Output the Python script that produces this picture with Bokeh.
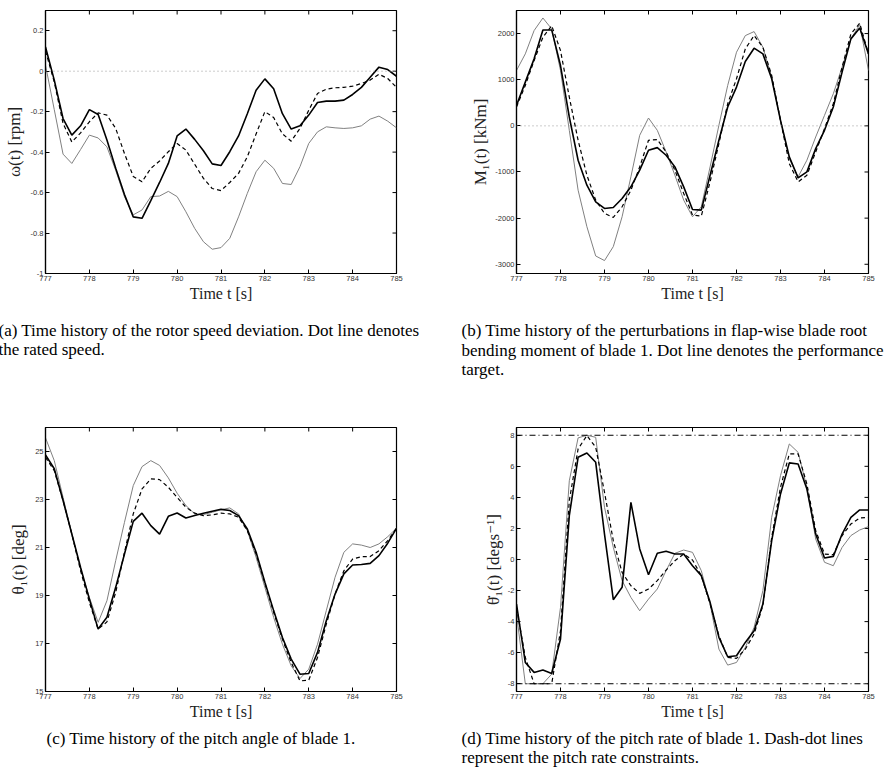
import math
from bokeh.plotting import figure
from bokeh.layouts import column, row
from bokeh.models import Range1d, FixedTicker, Span, Title
from bokeh.embed import file_html
from bokeh.resources import INLINE

# ---------------- data ----------------
t = [777.0, 777.2, 777.4, 777.6, 777.8, 778.0, 778.2, 778.4, 778.6, 778.8,
     779.0, 779.2, 779.4, 779.6, 779.8, 780.0, 780.2, 780.4, 780.6, 780.8,
     781.0, 781.2, 781.4, 781.6, 781.8, 782.0, 782.2, 782.4, 782.6, 782.8,
     783.0, 783.2, 783.4, 783.6, 783.8, 784.0, 784.2, 784.4, 784.6, 784.8,
     785.0]

# (a) rotor speed deviation [rpm]
omega_solid = [0.12, -0.044, -0.234, -0.316, -0.27, -0.19, -0.214, -0.34, -0.48, -0.61,
               -0.72, -0.727, -0.64, -0.55, -0.456, -0.32, -0.286, -0.337, -0.393, -0.458,
               -0.466, -0.398, -0.32, -0.21, -0.094, -0.038, -0.087, -0.21, -0.286, -0.27,
               -0.217, -0.155, -0.148, -0.148, -0.143, -0.115, -0.08, -0.03, 0.02, 0.008,
               -0.025]
omega_dashed = [0.10, -0.053, -0.258, -0.35, -0.305, -0.25, -0.206, -0.217, -0.283, -0.407,
                -0.52, -0.547, -0.48, -0.444, -0.398, -0.357, -0.39, -0.46, -0.53, -0.58,
                -0.59, -0.55, -0.505, -0.423, -0.31, -0.2, -0.229, -0.31, -0.346, -0.283,
                -0.193, -0.11, -0.089, -0.082, -0.08, -0.074, -0.061, -0.044, -0.015, -0.036,
                -0.08]
omega_gray = [0.03, -0.19, -0.41, -0.456, -0.387, -0.316, -0.33, -0.374, -0.49, -0.62,
              -0.71, -0.686, -0.62, -0.617, -0.594, -0.62, -0.695, -0.777, -0.843, -0.88,
              -0.872, -0.826, -0.72, -0.604, -0.497, -0.44, -0.48, -0.555, -0.56, -0.472,
              -0.357, -0.3, -0.275, -0.28, -0.283, -0.28, -0.27, -0.237, -0.222, -0.247,
              -0.28]

# (b) flap-wise blade root bending moment [kNm]
m1_solid = [444, 948, 1452, 2079, 2079, 1307, 192, -745, -1286, -1646,
            -1790, -1770, -1575, -1322, -961, -529, -472, -637, -889, -1322,
            -1812, -1826, -1070, -313, 408, 840, 1395, 1683, 1560, 1020,
            120, -673, -1127, -997, -493, -97, 408, 1164, 1885, 2122,
            1560]
m1_dashed = [408, 876, 1416, 1920, 2172, 1632, 624, -313, -1070, -1610,
             -1898, -1984, -1754, -1394, -889, -313, -298, -565, -961, -1466,
             -1934, -1956, -1214, -385, 480, 1020, 1668, 1956, 1704, 1092,
             120, -817, -1214, -1070, -565, -60, 480, 1272, 1992, 2223,
             1560]
m1_gray = [1200, 1560, 2065, 2338, 2100, 1200, -97, -1394, -2186, -2820,
           -2920, -2617, -1970, -1105, -205, 170, -97, -565, -1070, -1610,
           -1970, -1754, -889, 12, 876, 1596, 1956, 2043, 1704, 1056,
           120, -709, -1105, -745, -241, 228, 696, 1272, 1885, 2194,
           1200]

# (c) pitch angle of blade 1 [deg]
theta_solid = [24.86, 24.28, 22.96, 21.56, 20.17, 18.85, 17.6, 18.09, 19.34, 20.73,
               22.09, 22.43, 21.91, 21.56, 22.30, 22.44, 22.23, 22.33, 22.43, 22.51,
               22.59, 22.54, 22.33, 21.77, 20.80, 19.55, 18.37, 17.25, 16.35, 15.72,
               15.75, 16.63, 17.95, 19.06, 19.9, 20.27, 20.29, 20.34, 20.66, 21.18,
               21.8]
theta_dashed = [24.76, 24.2, 22.96, 21.56, 20.03, 18.71, 17.6, 17.9, 19.13, 20.8,
                22.4, 23.44, 23.86, 23.83, 23.51, 23.09, 22.68, 22.43, 22.33, 22.36,
                22.43, 22.4, 22.26, 21.70, 20.73, 19.51, 18.30, 17.18, 16.21, 15.44,
                15.47, 16.42, 17.81, 19.06, 20.03, 20.52, 20.62, 20.62, 20.87, 21.29,
                21.8]
theta_gray = [25.57, 24.62, 23.09, 21.56, 20.1, 18.92, 17.88, 18.78, 20.45, 22.05,
              23.58, 24.37, 24.62, 24.42, 23.90, 23.26, 22.75, 22.4, 22.37, 22.47,
              22.57, 22.65, 22.4, 21.7, 20.59, 19.34, 18.09, 16.97, 16.07, 15.54,
              15.93, 16.97, 18.37, 19.76, 20.80, 21.15, 21.1, 21.0, 21.15, 21.45,
              21.8]

# (d) pitch rate of blade 1 [deg/s]
rate_solid = [-2.87, -6.63, -7.27, -7.12, -7.34, -5.12, 2.82, 6.58, 6.86, 6.26,
              1.64, -2.59, -1.79, 3.68, 0.68, -0.98, 0.40, 0.53, 0.35, 0.35,
              -0.40, -1.04, -2.76, -5.01, -6.26, -6.20, -5.34, -4.59, -2.87, 1.21,
              4.22, 6.22, 6.15, 4.54, 1.64, 0.10, 0.2, 1.64, 2.72, 3.19,
              3.19]
rate_dashed = [-3.09, -6.3, -8.0, -8.0, -8.0, -4.59, 3.79, 7.12, 7.98, 7.23,
               4.33, 1.21, -0.83, -1.69, -2.18, -1.90, -1.36, -0.68, -0.08, 0.35,
               -0.03, -1.04, -2.87, -4.91, -6.30, -6.37, -5.77, -4.80, -2.97, 1.43,
               4.65, 6.80, 6.80, 4.86, 1.86, 0.35, 0.31, 1.54, 2.29, 2.67,
               2.72]
rate_gray = [-3.51, -8.0, -8.0, -8.0, -7.38, -3.08, 5.07, 7.83, 8.0, 7.87,
             3.36, 0.78, -1.36, -2.44, -3.30, -2.55, -1.90, -0.72, 0.40, 0.61,
             0.46, -0.72, -2.87, -5.77, -6.80, -6.63, -5.66, -4.37, -2.0, 2.72,
             5.40, 7.44, 6.90, 4.65, 1.32, -0.18, -0.40, 0.78, 1.54, 1.90,
             2.12]
rate_limit = [8, -8]

# ticks
x_ticks = [777, 778, 779, 780, 781, 782, 783, 784, 785]
x_tick_labels = ["777", "778", "779", "780", "781", "782", "783", "784", "785"]
ya_ticks = [-1, -0.8, -0.6, -0.4, -0.2, 0, 0.2]
ya_labels = ["-1", "-0.8", "-0.6", "-0.4", "-0.2", "0", "0.2"]
yb_ticks = [-3000, -2000, -1000, 0, 1000, 2000]
yb_labels = ["-3000", "-2000", "-1000", "0", "1000", "2000"]
yc_ticks = [15, 17, 19, 21, 23, 25]
yc_labels = ["15", "17", "19", "21", "23", "25"]
yd_ticks = [-8, -6, -4, -2, 0, 2, 4, 6, 8]
yd_labels = ["-8", "-6", "-4", "-2", "0", "2", "4", "6", "8"]

captions = {
    "a": ["(a)  Time history of the rotor speed deviation. Dot line denotes",
          "the rated speed."],
    "b": ["(b)  Time history of the perturbations in flap-wise blade root",
          "bending moment of blade 1. Dot line denotes the performance",
          "target."],
    "c": ["(c)  Time history of the pitch angle of blade 1."],
    "d": ["(d)  Time history of the pitch rate of blade 1. Dash-dot lines",
          "represent the pitch rate constraints."],
}

SERIF = "Liberation Serif, DejaVu Serif"
SANS = "Liberation Sans, Arial"


def make_panel(ylabel, yrange, yticks, ylabels, series, left, right, top, bottom,
               height, cap, cap_offset, cap_standoff, ylabel_standoff):
    p = figure(width=447, height=height, output_backend="svg", toolbar_location=None,
               x_range=Range1d(777, 785), y_range=Range1d(*yrange),
               min_border_left=left, min_border_right=right,
               min_border_top=top, min_border_bottom=bottom)
    p.grid.visible = False
    p.outline_line_color = "black"
    p.outline_line_width = 1.2
    p.background_fill_color = "white"
    p.border_fill_color = "white"

    xt = FixedTicker(ticks=x_ticks)
    yt = FixedTicker(ticks=yticks)
    xover = {float(v): s for v, s in zip(x_ticks, x_tick_labels)}
    yover = {float(v): s for v, s in zip(yticks, ylabels)}

    for ax in p.xaxis:
        ax.ticker = xt
        ax.major_label_overrides = xover
        ax.axis_label = "Time t [s]"
        ax.axis_label_standoff = 1
        ax.axis_label_text_font_size = "16px"
    for ax in p.yaxis:
        ax.ticker = yt
        ax.major_label_overrides = yover
        ax.axis_label = ylabel
        ax.axis_label_standoff = ylabel_standoff
        ax.axis_label_text_font_size = "17px"
    for ax in list(p.xaxis) + list(p.yaxis):
        ax.major_tick_in = 4
        ax.major_tick_out = 0
        ax.minor_tick_line_color = None
        ax.axis_line_color = "black"
        ax.axis_line_width = 1.2
        ax.major_tick_line_color = "black"
        ax.major_label_text_font = SANS
        ax.major_label_text_font_size = "7.5px"
        ax.major_label_text_color = "#333333"
        ax.major_label_standoff = 2
        ax.axis_label_text_font = SERIF
        ax.axis_label_text_font_style = "normal"
        ax.axis_label_text_color = "#222222"

    # mirrored box ticks on the top and right edges (half of each dash is clipped)
    n_x = len(x_ticks)
    n_y = len(yticks)
    p.scatter(x_ticks, [yrange[1]] * n_x, marker="dash", size=8, angle=math.pi / 2,
              line_color="black", line_width=1)
    p.scatter([785] * n_y, yticks, marker="dash", size=8,
              line_color="black", line_width=1)

    solid, dashed, gray = series
    p.line(t, gray, line_color="#808080", line_width=1.0)
    p.line(t, dashed, line_color="black", line_width=1.2, line_dash="4 3")
    p.line(t, solid, line_color="black", line_width=1.6)

    p.add_layout(Title(text="\n".join(cap), align="left", offset=cap_offset,
                       standoff=cap_standoff, text_font=SERIF, text_font_size="17px",
                       text_font_style="normal", text_color="black",
                       text_line_height=1.05), "below")
    return p


pa = make_panel("ω(t) [rpm]", (-1, 0.3), ya_ticks, ya_labels,
                (omega_solid, omega_dashed, omega_gray),
                45, 51, 10, 127, 400, captions["a"], -47, 28, 4)
pa.add_layout(Span(location=0, dimension="width", line_color="#999999",
                   line_dash="1 3", line_width=1))

pb = make_panel("M₁(t) [kNm]", (-3200, 2500), yb_ticks, yb_labels,
                (m1_solid, m1_dashed, m1_gray),
                69, 26, 10, 127, 400, captions["b"], -55, 28, 2)
pb.add_layout(Span(location=0, dimension="width", line_color="#999999",
                   line_dash="1 3", line_width=1))

pc = make_panel("θ₁(t) [deg]", (15, 26), yc_ticks, yc_labels,
                (theta_solid, theta_dashed, theta_gray),
                45, 51, 27, 84, 375, captions["c"], 1, 8, 4)

pd = make_panel("θ̇₁(t) [degs⁻¹]", (-8.5, 8.5), yd_ticks, yd_labels,
                (rate_solid, rate_dashed, rate_gray),
                69, 26, 27, 84, 375, captions["d"], -55, 8, 2)
for lim in rate_limit:
    pd.add_layout(Span(location=lim, dimension="width", line_color="black",
                       line_dash="6 3 1 3", line_width=1))

layout = column(row(pa, pb), row(pc, pd))
open("out.html", "w").write(file_html(layout, INLINE))
